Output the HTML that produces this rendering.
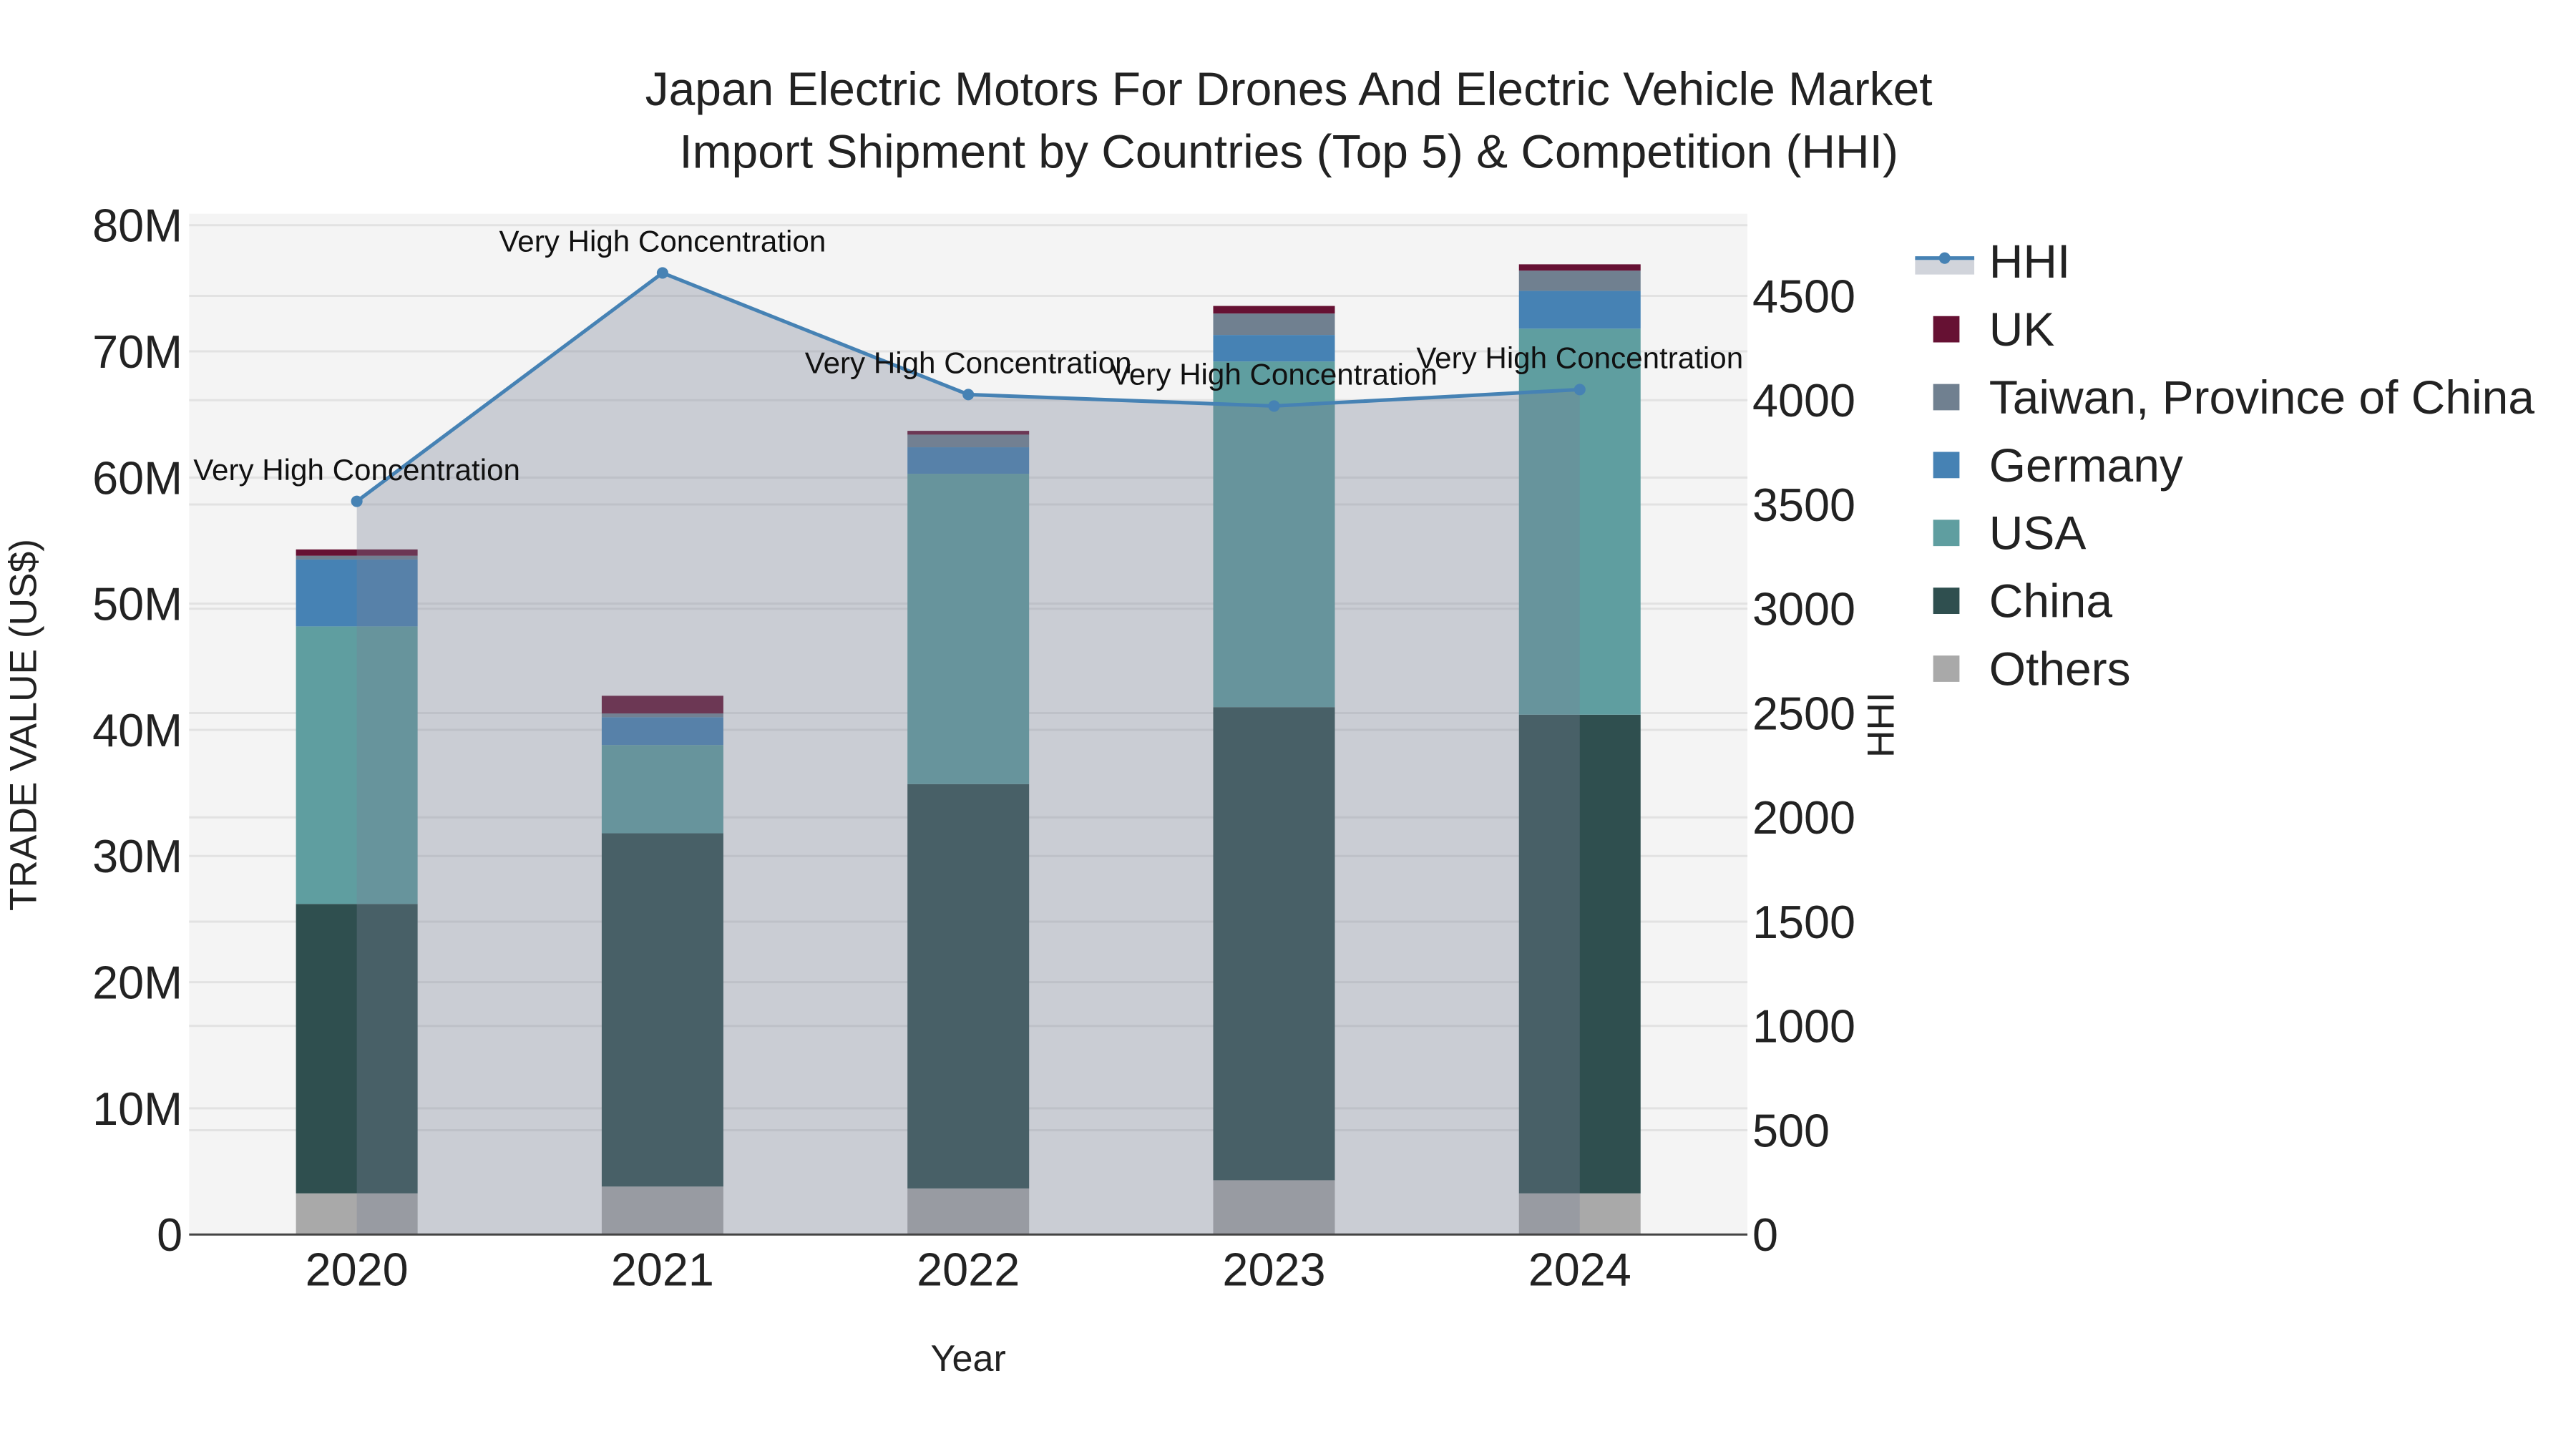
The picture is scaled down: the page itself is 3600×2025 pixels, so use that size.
<!DOCTYPE html>
<html><head><meta charset="utf-8"><style>
html,body{margin:0;padding:0;background:#fff;}
svg{display:block;font-family:"Liberation Sans",sans-serif;}
</style></head><body>
<svg id="chart" width="3600" height="2025" viewBox="0 0 1567 881.5" xmlns="http://www.w3.org/2000/svg">
<rect x="115" y="130" width="948" height="621" fill="#f4f4f4"/>
<g id="grid"></g><g id="bars"></g><g id="hhi"></g><g id="axes"></g>
<text x="784" y="64" text-anchor="middle" font-size="28.7" fill="#222">Japan Electric Motors For Drones And Electric Vehicle Market</text>
<text x="784" y="102" text-anchor="middle" font-size="28.7" fill="#222">Import Shipment by Countries (Top 5) &amp; Competition (HHI)</text>
<text x="589" y="834" text-anchor="middle" font-size="22.7" fill="#222">Year</text>
<text transform="translate(22,441) rotate(-90)" text-anchor="middle" font-size="23.2" fill="#222">TRADE VALUE (US$)</text>
<text transform="translate(1152,441) rotate(-90)" text-anchor="middle" font-size="23.2" fill="#222">HHI</text>
<g id="legend"></g>
</svg>
<script>
const years=["2020","2021","2022","2023","2024"];
const others=[3.26,3.8,3.65,4.3,3.26];
const china=[22.94,28.0,32.05,37.5,37.94];
const usa=[22.0,7.0,24.6,27.4,30.6];
const germany=[5.3,2.2,2.1,2.1,3.0];
const taiwan=[0.3,0.3,1.0,1.7,1.6];
const uk=[0.5,1.4,0.3,0.6,0.5];
const hhi=[3515,4610,4027,3972,4051];
const yTicks=[0,10,20,30,40,50,60,70,80];
const yTickLabels=["0","10M","20M","30M","40M","50M","60M","70M","80M"];
const y2Ticks=[0,500,1000,1500,2000,2500,3000,3500,4000,4500];

const NS="http://www.w3.org/2000/svg";
function mk(t,a,p){const e=document.createElementNS(NS,t);for(const k in a)e.setAttribute(k,a[k]);p.appendChild(e);return e;}
const xS=i=>217+i*186;
const yS=v=>751-v*7.675;
const y2S=v=>751-v*(571/4500);
const grid=document.getElementById('grid'),bars=document.getElementById('bars'),hg=document.getElementById('hhi'),axes=document.getElementById('axes'),leg=document.getElementById('legend');

yTicks.forEach((t,i)=>{
 if(t>0){const l=mk('line',{x1:115,x2:1063,y1:yS(t),y2:yS(t),stroke:'#e2e2e2','stroke-width':1.3},grid);
 
 }
 const tx=mk('text',{x:111,y:yS(t)+10,'text-anchor':'end','font-size':28.2,fill:'#222'},axes);tx.textContent=yTickLabels[i];
 
 
});
y2Ticks.forEach(t=>{
 if(t>0){const l=mk('line',{x1:115,x2:1063,y1:y2S(t),y2:y2S(t),stroke:'#e2e2e2','stroke-width':1.3},grid);
 
 }
 const tx=mk('text',{x:1066,y:y2S(t)+10,'text-anchor':'start','font-size':28.2,fill:'#222'},axes);tx.textContent=t;
 
 
});
const series=[["Others",others,"#a9a9a9"],["China",china,"#2f4f4f"],["USA",usa,"#5f9ea0"],["Germany",germany,"#4682b4"],["Taiwan, Province of China",taiwan,"#708090"],["UK",uk,"#661133"]];
years.forEach((y,i)=>{
 let base=0;
 series.forEach(s=>{
  const v=s[1][i];
  const r=mk('rect',{x:xS(i)-37,width:74,y:yS(base+v),height:yS(base)-yS(base+v),fill:s[2]},bars);
  
  
  base+=v;
 });
 const tx=mk('text',{x:xS(i),y:782,'text-anchor':'middle','font-size':28.2,fill:'#222'},axes);tx.textContent=y;
 
 
});
let pts=hhi.map((v,i)=>xS(i)+','+y2S(v)).join(' ');
const area=mk('polygon',{points:xS(0)+','+y2S(0)+' '+pts+' '+xS(hhi.length-1)+','+y2S(0),fill:'rgba(120,130,150,0.34)'},hg);


const line=mk('polyline',{points:pts,fill:'none',stroke:'#4682b4','stroke-width':2.2},hg);


hhi.forEach((v,i)=>{
 const c=mk('circle',{cx:xS(i),cy:y2S(v),r:3.5,fill:'#4682b4'},hg);
 
 
 const t=mk('text',{x:xS(i),y:y2S(v)-13,'text-anchor':'middle','font-size':18.35,fill:'#111'},hg);t.textContent='Very High Concentration';
 
 
});
const ax=mk('line',{x1:115,x2:1063,y1:751,y2:751,stroke:'#444','stroke-width':1.3},axes);


const lg=[["HHI",null],["UK","#661133"],["Taiwan, Province of China","#708090"],["Germany","#4682b4"],["USA","#5f9ea0"],["China","#2f4f4f"],["Others","#a9a9a9"]];
lg.forEach((e,i)=>{
 const y=159+i*41.3;
 const g=mk('g',{},leg);
 
 
 if(e[1]===null){
  mk('rect',{x:1165,y:y-2,width:36,height:10,fill:'rgba(120,130,150,0.34)'},g);
  mk('line',{x1:1165,x2:1201,y1:y-2,y2:y-2,stroke:'#4682b4','stroke-width':2.2},g);
  mk('circle',{cx:1183,cy:y-2,r:3.5,fill:'#4682b4'},g);
 } else mk('rect',{x:1176,y:y-8,width:16,height:16,fill:e[1]},g);
 const t=mk('text',{x:1210,y:y+10,'font-size':28.7,fill:'#222'},g);t.textContent=e[0];
});
</script>
</body></html>
